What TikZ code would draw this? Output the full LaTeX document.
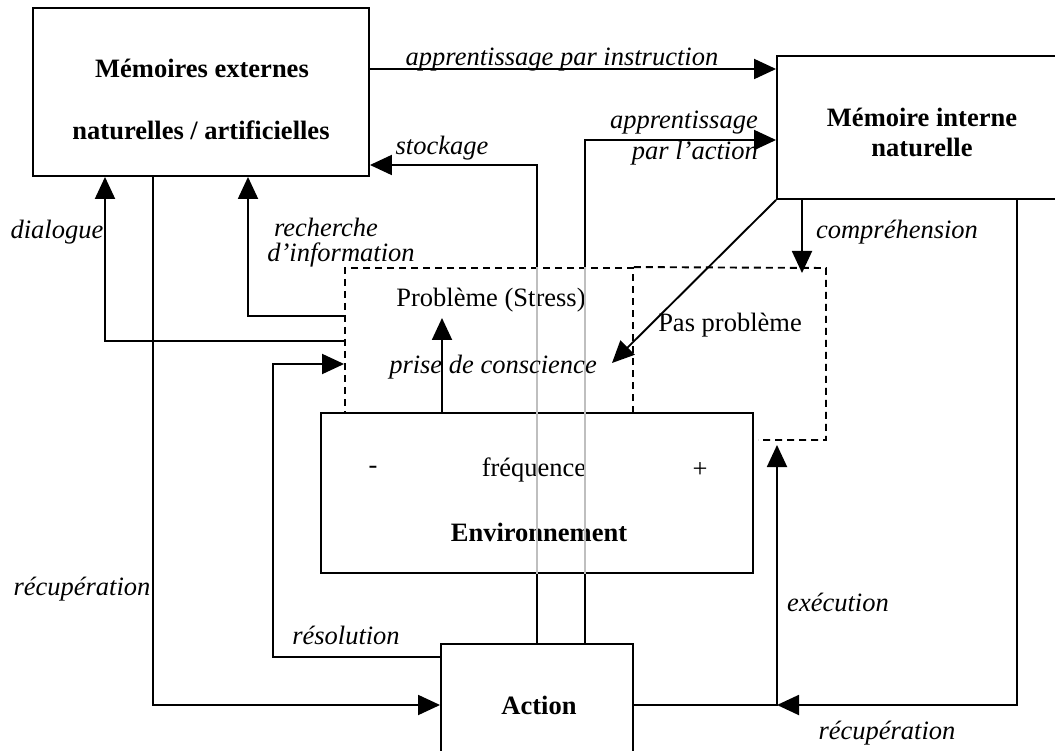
\documentclass[tikz,border=0pt]{standalone}
\usepackage{fontspec}
\setmainfont{Liberation Serif}
\usetikzlibrary{arrows.meta}
\begin{document}
\begin{tikzpicture}[x=1pt,y=-1pt,
  every node/.style={font=\fontsize{26.5}{30}\selectfont, inner sep=0pt},
  box/.style={draw, line width=1.9pt, rectangle},
  dbox/.style={draw, line width=1.9pt, dash pattern=on 7pt off 5pt},
  arr/.style={line width=1.9pt, -{Triangle[length=22pt,width=20pt]}},
  lab/.style={font=\fontsize{26.5}{30}\selectfont\itshape},
  bt/.style={font=\fontsize{26.5}{30}\selectfont\bfseries},
  grayline/.style={line width=2.1pt, draw=black!25}
]
\useasboundingbox (0,0) rectangle (1055,751);

% boxes
\node[box, minimum width=336pt, minimum height=168pt] (me) at (201,92) {};
\node[bt] (met1) at (202,68) {Mémoires externes};
\node[bt] (met2) at (201,130) {naturelles / artificielles};

\node[box, minimum width=289pt, minimum height=143pt] (mi) at (921.5,127.5) {};
\node[bt, align=center] (mit) at (922,132) {Mémoire interne\\naturelle};

\node[dbox, minimum width=288pt, minimum height=145pt] (prob) at (489,340.5) {};
\node (probt) at (491,300) {Problème (Stress)};
\coordinate (pp1) at (826,268);
\coordinate (pp2) at (826,440);
\coordinate (pp3) at (758,440);
\draw[dbox] (prob.north east) -- (pp1) -- (pp2) -- (pp3);
\node (pas) at (730,325) {Pas problème};

\node[box, minimum width=432pt, minimum height=160pt] (env) at (537,493) {};
\node (moins) at (373,470) {-};
\node (freq) at (534,470) {fréquence};
\node (plus) at (700,470) {+};
\node[bt] (envt) at (539,532) {Environnement};

\node[box, minimum width=192pt, minimum height=122pt] (action) at (537,705) {};
\node[bt] (actt) at (539,705) {Action};

% connectors
\draw[arr] (me.east |- 0,69) -- (mi.west |- 0,69);
\draw[arr] (action.north -| 585,0) |- (mi.west |- 0,140);
\draw[arr] (action.north) |- (me.east |- 0,165);
\draw[grayline] (prob.north -| action.north) -- (env.south -| action.north);
\draw[grayline] (prob.north -| 585,0) -- (env.south -| 585,0);

\draw[arr] (prob.west |- 0,316) -| (me.south -| 248,0);
\draw[arr] (prob.west |- 0,341) -| (me.south -| 105,0);
\draw[arr] (me.south -| 153,0) |- (action.west);
\coordinate (resc) at (273,657);
\draw[arr] (action.west |- 0,657) -- (resc) |- (prob.west |- 0,364);
\coordinate (pc) at (442,318);
\draw[arr] (env.north -| pc) -- (pc);
\coordinate (diag) at (612,363);
\draw[arr] (mi.south west) -- (diag);
\coordinate (comp) at (802,273);
\draw[arr] (mi.south -| comp) -- (comp);
\coordinate (exe) at (777,445);
\coordinate (junc) at (777,705);
\draw[arr] (action.east) -| (exe);
\draw[arr] (mi.south -| 1017,0) |- (junc);

% labels
\node[lab] (l1) at (562,60) {apprentissage par instruction};
\node[lab, anchor=east] (l2a) at (758,123) {apprentissage};
\node[lab, anchor=east] (l2b) at (758,153) {par l’action};
\node[lab] (l3) at (442,148) {stockage};
\node[lab] (l4a) at (326,227) {recherche};
\node[lab] (l4b) at (341,255) {d’information};
\node[lab] (l5) at (57,232) {dialogue};
\node[lab] (l6) at (897,232) {compréhension};
\node[lab] (l7) at (82,589) {récupération};
\node[lab] (l8) at (346,635) {résolution};
\node[lab] (l9) at (838,602) {exécution};
\node[lab] (l10) at (887,733) {récupération};
\node[lab] (l11) at (493,367) {prise de conscience};
\end{tikzpicture}
\end{document}
